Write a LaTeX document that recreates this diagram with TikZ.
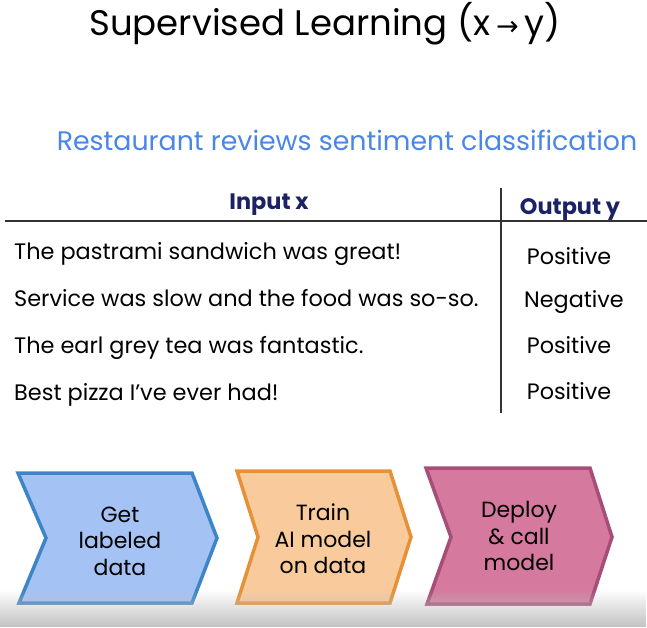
\documentclass[tikz,border=0pt]{standalone}
\usepackage{fontspec}
\setmainfont{Poppins}
\newfontfamily\arrowfont{DejaVu Sans}
\usetikzlibrary{fadings}
\definecolor{subblue}{HTML}{4A86E8}
\definecolor{headnavy}{HTML}{1C2263}
\definecolor{rulegray}{HTML}{333333}
\definecolor{bluefill}{HTML}{A4C2F4}
\definecolor{bluedraw}{HTML}{3D85C6}
\definecolor{orangefill}{HTML}{F9CB9C}
\definecolor{orangedraw}{HTML}{E69138}
\definecolor{pinkfill}{HTML}{D57A9E}
\definecolor{pinkdraw}{HTML}{A64D79}
\tikzfading[name=fade up, top color=transparent!100, bottom color=transparent!0]
\tikzset{
  rowtext/.style={anchor=mid west, font=\fontsize{22.4}{26}\selectfont, inner sep=0pt},
  outtext/.style={anchor=mid, font=\fontsize{22.3}{26}\selectfont, inner sep=0pt},
  headtext/.style={anchor=mid, font=\fontsize{22.4}{26}\selectfont\bfseries, text=headnavy, inner sep=0pt},
  steptext/.style={align=center, font=\fontsize{22}{26.5}\selectfont, inner sep=0pt},
  chev/.style={line width=3.5pt, line join=miter},
  tablerule/.style={rulegray, line width=1.3pt}
}
\begin{document}
\begin{tikzpicture}[x=1pt, y=-1pt]
\useasboundingbox (0,0) rectangle (647,627);
\fill[white] (0,0) rectangle (647,627);

% headings
\node (title) at (325,24) {\fontsize{35.5}{40}\selectfont Supervised Learning (x\,{\arrowfont\fontsize{27}{40}\selectfont →}\,y)};
\node[text=subblue, font=\fontsize{26.8}{31}\selectfont] (sub) at (347,140) {Restaurant reviews sentiment classification};

% table rules
\coordinate (hl) at (5,221);
\coordinate (hr) at (647,221);
\coordinate (vt) at (501,188);
\coordinate (vb) at (501,413);
\draw[tablerule] (hl) -- (hr);
\draw[tablerule] (vt) -- (vb);

% table header
\node[headtext] (hin) at (269,207) {Input x};
\node[headtext] (hout) at (570,212) {Output y};

% table rows
\node[rowtext] (r1) at (14,257) {The pastrami sandwich was great!};
\node[rowtext] (r2) at (14,304) {Service was slow and the food was so-so.};
\node[rowtext] (r3) at (14,351) {The earl grey tea was fantastic.};
\node[rowtext] (r4) at (14,398) {Best pizza I’ve ever had!};
\node[outtext] (o1) at (569,262) {Positive};
\node[outtext] (o2) at (574,305) {Negative};
\node[outtext] (o3) at (569,351) {Positive};
\node[outtext] (o4) at (569,397) {Positive};

% process chevrons
\draw[chev, draw=bluedraw, fill=bluefill]
  (18,473) -- (192,473) -- (217,538) -- (192,603) -- (19,603) -- (46,538) -- cycle;
\draw[chev, draw=orangedraw, fill=orangefill]
  (237,471) -- (390,471) -- (411,537) -- (390,603) -- (237,603) -- (258,537) -- cycle;
\draw[chev, draw=pinkdraw, fill=pinkfill]
  (426,468) -- (590,468) -- (612,537) -- (590,604) -- (427,604) -- (451,537) -- cycle;

\node[steptext] (s1) at (120,541) {Get\\labeled\\data};
\node[steptext] (s2) at (323,539) {Train\\AI model\\on data};
\node[steptext] (s3) at (519,536) {Deploy\\\& call\\model};

% soft grey band along the lower edge
\fill[black!24, path fading=fade up] (0,590) rectangle (647,627);
\end{tikzpicture}
\end{document}
